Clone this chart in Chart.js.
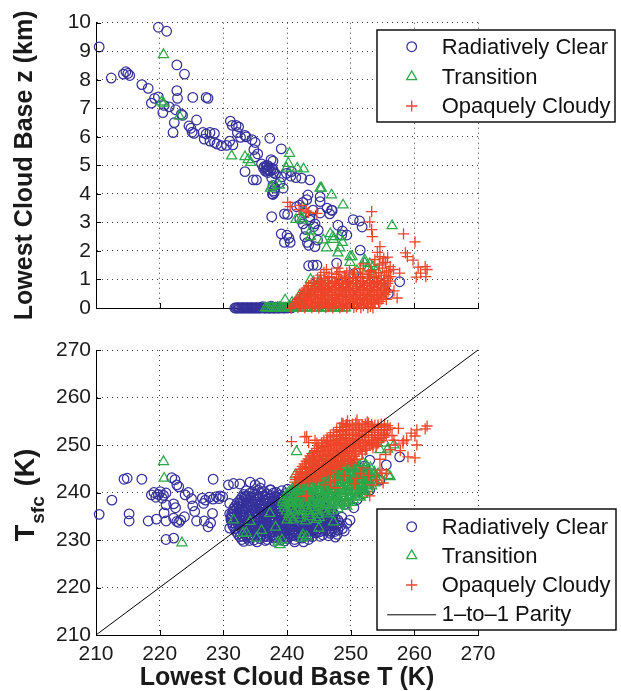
<!DOCTYPE html>
<html><head><meta charset="utf-8">
<script src="https://cdn.jsdelivr.net/npm/chart.js@4/dist/chart.umd.min.js"></script>
<style>
html,body{margin:0;padding:0;background:#fff;}
#wrap{position:relative;width:621px;height:691px;background:#fff;}
canvas{position:absolute;left:0;}
#c1{top:0;} #c2{top:330px;}
</style></head><body>
<div id="wrap"><canvas id="c1" width="621" height="330"></canvas><canvas id="c2" width="621" height="361"></canvas></div>
<script>
// ---------- tick labels / categories ----------
const tempTicks = [210, 220, 230, 240, 250, 260, 270];
const heightTicks = [0, 1, 2, 3, 4, 5, 6, 7, 8, 9, 10];
const seriesNames = ['Radiatively Clear', 'Transition', 'Opaquely Cloudy'];
const parityName = '1\u2013to\u20131 Parity';
const parityLine = [210, 270];

// ---------- top panel: [cloud base T (K), cloud base z (km)] ----------
const clearTop = [
[210.5,9.15],[212.4,8.06],[214.3,8.2],[214.7,8.28],[215.0,8.22],[215.3,8.15],[217.2,7.83],[218.2,7.7],[218.7,7.18],[219.2,7.35],[219.8,7.4],[219.8,9.84],[221.1,9.7],[220.7,7.1],[220.5,6.85],[221.5,7.05],[222.7,8.52],[223.9,8.2],[222.7,7.62],[222.8,7.35],[222.5,6.95],[222.3,6.5],[222.1,6.15],[223.6,6.75],[223.4,6.8],[225.2,7.38],[227.3,7.38],[227.6,7.35],[224.6,6.38],[224.9,6.3],[225.8,6.59],[225.1,6.16],[225.4,6.12],[226.8,6.15],[227.3,6.1],[227.9,6.15],[228.6,6.12],[227.0,5.92],[227.9,5.85],[228.6,5.8],[229.0,5.75],[229.7,5.69],[231.1,6.55],[231.4,6.4],[232.0,6.4],[232.4,6.35],[232.2,6.15],[232.7,5.98],[233.4,6.05],[233.6,6.0],[231.0,5.85],[231.5,5.72],[230.5,5.7],[234.5,5.9],[235.0,5.8],[234.8,5.55],[235.0,5.3],[235.4,5.4],[236.0,5.05],[236.4,4.95],[236.8,4.85],[237.2,4.95],[237.4,4.8],[237.8,4.85],[236.6,4.8],[237.0,4.75],[237.3,5.95],[237.5,5.2],[237.8,5.15],[235.2,4.49],[233.4,4.78],[237.6,4.55],[237.8,4.3],[238.0,4.05],[237.7,4.0],[239.1,5.58],[239.9,4.72],[240.6,4.62],[241.4,4.57],[238.9,4.4],[239.4,4.2],[237.6,3.2],[239.1,2.6],[239.6,2.3],[239.6,3.3],[240.1,3.28],[242.0,3.6],[242.5,3.7],[242.5,2.95],[243.0,2.75],[242.8,2.5],[243.2,2.3],[243.4,2.2],[243.4,1.48],[240.7,4.78],[242.3,4.55],[243.6,4.49],[243.3,3.96],[245.2,3.9],[243.6,3.08],[244.4,2.95],[244.9,2.73],[246.3,3.5],[246.7,3.3],[247.1,3.42],[250.4,3.1],[251.4,3.05],[251.8,2.84],[248.0,2.9],[248.7,2.7],[249.4,2.56],[240.0,2.55],[240.5,2.3],[244.7,1.5],[247.8,1.57],[251.5,2.03],[257.7,0.92],[255.4,0.63],[255.9,0.5],[248.8,0.87],[249.9,0.52],[242.6,0.4],[243.1,3.8],[243.6,3.2],[245.2,3.73],[247.0,3.43],[244.2,2.85],[244.4,2.15],[242.8,0.45],[244.1,1.5],[250.5,1.2],[252.8,0.8],[246.0,0.7],[241.5,0.2],
[236.3,4.9],[236.9,5.0],[237.6,4.9],[237.1,4.85],[236.7,4.95],[237.9,4.75],[238.2,4.7],[237.9,4.1],[238.1,4.2],[237.8,3.98],[234.7,4.49],[239.2,4.6],[241.5,3.55],[244.1,3.43],[245.2,3.33],[242.0,3.12],[242.8,3.32],[248.6,2.56],[244.8,2.38],[240.3,2.45],
[231.8,0],[232.2,0],[232.5,0],[232.9,0],[233.2,0],[233.6,0],[233.9,0],[234.3,0],[234.6,0],[235.0,0],[235.3,0],[235.7,0],[236.0,0],[236.4,0],[236.7,0],[237.1,0],[237.4,0],[237.8,0],[238.1,0],[238.5,0],[238.9,0],[239.4,0],[240.0,0],[240.7,0],[236.2,0.05],[237.5,0.06],[238.7,0.04],
[232.0,0],[232.35,0.01],[232.7,0],[233.05,0.01],[233.4,0],[233.75,0.01],[234.1,0],[234.45,0.01],[234.8,0],[235.15,0.01],[235.5,0],[235.85,0.01],[236.55,0],[236.9,0.01],[237.25,0],[237.6,0.01],[237.95,0],[238.3,0.01],[238.7,0],[239.1,0.01],[239.6,0],[240.3,0.01]
];
const transitionTop = [
[220.6,8.88],[220.3,7.22],[220.6,7.18],[223.1,6.72],[231.3,5.33],[233.4,5.3],[233.9,5.2],[234.3,5.1],[237.4,4.2],[238.8,4.3],[240.4,5.42],[239.9,4.9],[241.6,4.9],[241.4,3.1],[243.7,2.7],[243.7,2.5],[243.7,1.0],[240.2,5.07],[242.6,4.87],[237.6,4.26],[245.2,4.2],[248.8,3.61],[242.3,3.14],[246.8,2.6],[247.3,2.4],[248.3,2.5],[248.7,2.3],[249.9,1.6],[250.2,1.8],[256.5,2.88],[245.4,4.2],[247.0,3.96],[242.8,3.43],[242.5,3.08],[247.2,2.5],[245.7,2.38],[246.2,2.1],[248.3,2.1],[249.9,1.8],[252.2,1.68],[253.0,1.55],[253.5,1.45],[254.1,1.33],[244.9,0.87],[244.4,0.75],[245.2,0.95],[248.0,1.93],[252.2,1.58],[252.8,1.4],[253.4,1.2],[251.0,1.3],
[236.6,0],[237.2,0],[237.9,0],[238.5,0.02],[239.2,0],[239.8,0],[240.5,0.03],[241.2,0],[241.9,0],[242.6,0],[243.4,0],[244.2,0],[245.0,0],[245.8,0],[246.7,0],[247.5,0],[248.3,0],[249.2,0],[253.8,0.1],[239.7,0.28],[243.3,0.35],[240.8,0.2],[242.0,0.45],[243.0,0.6],[244.0,0.5],[245.5,0.3],[241.5,0.15],[246.5,0.55],
[236.9,0],[237.55,0.01],[238.2,0],[238.85,0.01],[239.5,0],[240.15,0.01],[240.85,0],[241.55,0.01],[242.25,0],[243.0,0.01],[243.8,0],[244.6,0.01],[245.4,0],[246.25,0.01],[247.1,0],[247.9,0.01],[248.75,0]
];
const opaqueTop = [
[240.1,3.7],[240.5,3.55],[241.9,3.45],[242.3,3.6],[243.0,3.4],[243.4,3.35],[244.7,3.32],[253.3,3.38],[253.0,3.02],[253.3,2.75],[253.4,2.5],[254.6,2.15],[258.3,2.6],[260.1,2.32],[258.6,1.93],[258.9,1.8],[259.8,1.68],[255.2,1.75],[255.8,1.78],[261.7,1.45],[261.0,1.22],[260.3,1.08],[257.7,1.22],[260.6,1.43],[262.0,1.35],[261.8,1.1],
[254.6,1.8],[255.5,1.6],[256.2,1.45],[256.7,1.35],[255.0,1.55],[253.8,1.7],[254.2,1.95],
[246.2,1.35],[248.0,1.4],[249.8,1.3],[251.5,1.38],[253.2,1.32],[255.0,1.4],
[245.8,1.25],[247.0,1.22],[248.3,1.27],[249.4,1.23],[250.6,1.26],[251.9,1.22],[253.1,1.27],[254.4,1.24],[255.6,1.26],
[245.3,1.15],[246.6,1.1],[247.8,1.18],[249.0,1.12],[250.3,1.16],[251.6,1.1],[252.8,1.17],[254.0,1.12],[255.3,1.15],[256.3,1.1],
[244.8,1.05],[245.9,1.03],[247.0,1.07],[248.1,1.04],[249.2,1.06],[250.4,1.03],[251.5,1.07],[252.6,1.04],[253.7,1.06],[254.8,1.03],[255.9,1.05],
[244.2,0.95],[245.3,0.92],[246.4,0.97],[247.5,0.93],[248.6,0.96],[249.7,0.92],[250.8,0.97],[251.9,0.93],[253.0,0.96],[254.1,0.92],[255.2,0.97],[256.2,0.94],
[243.8,0.86],[244.9,0.84],[246.0,0.88],[247.1,0.85],[248.2,0.87],[249.3,0.84],[250.4,0.88],[251.5,0.85],[252.6,0.87],[253.7,0.84],[254.8,0.88],[255.8,0.86],
[244.3,0.87],[245.4,0.85],[246.5,0.86],[247.6,0.88],[248.7,0.85],[249.8,0.87],[250.9,0.86],[252.0,0.85],[253.1,0.88],[254.2,0.86],[255.3,0.85],
[243.4,0.78],[244.5,0.75],[245.6,0.8],[246.7,0.76],[247.8,0.79],[248.9,0.75],[250.0,0.8],[251.1,0.76],[252.2,0.79],[253.3,0.75],[254.4,0.8],[255.5,0.77],
[243.0,0.7],[244.1,0.68],[245.2,0.72],[246.3,0.69],[247.4,0.71],[248.5,0.68],[249.6,0.72],[250.7,0.69],[251.8,0.71],[252.9,0.68],[254.0,0.72],[255.1,0.7],
[242.7,0.62],[243.8,0.6],[244.9,0.64],[246.0,0.6],[247.1,0.63],[248.2,0.6],[249.3,0.64],[250.4,0.6],[251.5,0.63],[252.6,0.6],[253.7,0.64],[254.8,0.61],[255.9,0.63],
[243.2,0.63],[244.3,0.61],[245.4,0.62],[246.5,0.64],[247.6,0.61],[248.7,0.63],[249.8,0.62],[250.9,0.61],[252.0,0.64],[253.1,0.62],[254.2,0.61],[255.3,0.63],
[242.5,0.54],[243.6,0.52],[244.7,0.56],[245.8,0.53],[246.9,0.55],[248.0,0.52],[249.1,0.56],[250.2,0.53],[251.3,0.55],[252.4,0.52],[253.5,0.56],[254.6,0.53],[255.6,0.55],
[242.2,0.46],[243.3,0.44],[244.4,0.48],[245.5,0.45],[246.6,0.47],[247.7,0.44],[248.8,0.48],[249.9,0.45],[251.0,0.47],[252.1,0.44],[253.2,0.48],[254.3,0.45],[255.4,0.47],
[242.7,0.47],[243.8,0.45],[244.9,0.46],[246.0,0.48],[247.1,0.45],[248.2,0.47],[249.3,0.46],[250.4,0.45],[251.5,0.48],[252.6,0.46],[253.7,0.45],[254.8,0.47],
[242.0,0.38],[243.1,0.36],[244.2,0.4],[245.3,0.37],[246.4,0.39],[247.5,0.36],[248.6,0.4],[249.7,0.37],[250.8,0.39],[251.9,0.36],[253.0,0.4],[254.1,0.37],[255.1,0.39],
[241.7,0.3],[242.8,0.28],[243.9,0.32],[245.0,0.29],[246.1,0.31],[247.2,0.28],[248.3,0.32],[249.4,0.29],[250.5,0.31],[251.6,0.28],[252.7,0.32],[253.8,0.29],[254.9,0.31],
[242.2,0.31],[243.3,0.29],[244.4,0.3],[245.5,0.32],[246.6,0.29],[247.7,0.31],[248.8,0.3],[249.9,0.29],[251.0,0.32],[252.1,0.3],[253.2,0.29],[254.3,0.31],
[241.5,0.22],[242.6,0.2],[243.7,0.24],[244.8,0.21],[245.9,0.23],[247.0,0.2],[248.1,0.24],[249.2,0.21],[250.3,0.23],[251.4,0.2],[252.5,0.24],[253.6,0.21],[254.6,0.23],
[241.2,0.15],[242.3,0.13],[243.4,0.17],[244.5,0.14],[245.6,0.16],[246.7,0.13],[247.8,0.17],[248.9,0.14],[250.0,0.16],[251.1,0.13],[252.2,0.17],[253.3,0.14],[254.4,0.16],
[241.7,0.16],[242.8,0.14],[243.9,0.15],[245.0,0.17],[246.1,0.14],[247.2,0.16],[248.3,0.15],[249.4,0.14],[250.5,0.17],[251.6,0.15],[252.7,0.14],[253.8,0.16],
[241.0,0.07],[242.1,0.06],[243.2,0.08],[244.3,0.06],[245.4,0.07],[246.5,0.05],[247.6,0.08],[248.7,0.06],[249.8,0.07],[250.9,0.05],[252.0,0.08],[253.1,0.06],
[240.6,0],[241.7,0.02],[242.8,0],[243.9,0.01],[245.0,0],[246.1,0.02],[247.2,0],[248.3,0.01],[249.4,0],[250.5,0.02],[251.6,0],[252.7,0.01],[253.5,0],
[255.6,0.3],[256.8,0.6],[257.3,0.35],[256.0,1.3],[254.5,1.5],[252.0,1.55]
];

// ---------- bottom panel: [cloud base T (K), surface T (K)] ----------
const clearBot = [
[210.5,235.4],[212.5,238.4],[214.4,242.8],[214.9,243.0],[215.2,235.5],[215.2,234.0],[217.2,242.8],[218.2,234.0],[218.7,239.5],[219.1,240.0],[219.4,239.0],[219.8,239.6],[220.1,240.2],[220.6,239.4],[221.0,239.9],[220.4,238.8],[219.5,234.4],[220.7,235.7],[221.0,237.4],[221.0,234.0],[221.0,230.1],[221.9,243.1],[222.4,242.7],[222.7,241.6],[223.0,241.2],[222.2,237.6],[222.5,236.8],[222.2,234.6],[222.7,233.9],[223.0,233.7],[223.3,234.2],[223.9,234.9],[222.2,230.4],[224.0,239.5],[224.5,240.0],[225.0,238.7],[225.2,237.2],[225.5,236.0],[225.8,234.0],[226.9,237.7],[226.7,238.8],[227.2,238.4],[227.8,239.0],[228.4,238.6],[228.9,239.1],[229.3,238.7],[227.0,234.0],[228.0,233.6],[228.3,235.6],[227.6,232.8],[228.4,242.8],[229.5,239.3],[229.9,239.1],[230.8,241.6],[231.0,237.7],[231.0,235.5],[231.2,234.6],[231.0,232.5],[231.6,241.9],[232.6,241.8],[233.4,239.1],[234.2,242.2],[235.0,241.6],[235.8,242.0],[235.8,240.9],[237.4,240.5],
[233.6,240.4],[234.6,240.1],[235.5,240.5],[236.4,240.2],[237.4,240.6],[238.3,240.0],[239.2,240.4],[240.1,240.7],[241.1,240.2],[242.0,240.5],[243.1,240.1],
[233.2,239.6],[234.1,239.8],[235.1,239.5],[236.0,239.8],[236.9,239.6],[237.9,239.9],[238.8,239.5],[239.8,239.8],[240.7,239.6],[241.6,239.9],[242.6,239.5],[243.6,239.7],
[232.9,239.0],[233.8,239.3],[234.8,238.9],[235.7,239.2],[236.6,239.0],[237.5,239.4],[238.5,238.9],[239.4,239.2],[240.3,239.0],[241.3,239.3],[242.2,238.9],[243.2,239.2],[244.2,239.0],
[233.4,239.2],[234.3,239.0],[235.3,239.1],[236.2,239.3],[237.1,238.9],[238.0,239.1],[239.0,239.0],[239.9,239.2],[240.8,238.9],[241.8,239.1],[242.7,239.0],[243.7,239.2],
[232.6,238.4],[233.5,238.7],[234.4,238.3],[235.4,238.6],[236.3,238.4],[237.2,238.7],[238.1,238.3],[239.0,238.6],[240.0,238.4],[240.9,238.7],[241.9,238.3],[242.8,238.6],[243.8,238.4],[244.8,238.6],
[232.2,237.8],[233.1,238.1],[234.0,237.7],[235.0,238.0],[235.9,237.8],[236.8,238.2],[237.7,237.7],[238.7,238.0],[239.6,237.9],[240.5,238.1],[241.5,237.7],[242.4,238.0],[243.4,237.8],[244.4,238.1],[245.3,237.7],
[232.7,237.9],[233.6,237.8],[234.5,238.0],[235.5,237.9],[236.4,237.8],[237.3,238.0],[238.2,237.9],[239.2,237.8],[240.1,238.0],[241.0,237.9],[242.0,237.8],[242.9,238.0],[243.9,237.9],[244.9,237.8],
[231.9,237.2],[232.8,237.5],[233.8,237.1],[234.7,237.4],[235.6,237.2],[236.6,237.5],[237.5,237.1],[238.4,237.4],[239.4,237.2],[240.3,237.5],[241.2,237.1],[242.1,237.4],[243.1,237.2],[244.0,237.5],[245.0,237.1],[245.9,237.4],
[231.6,236.6],[232.5,236.9],[233.4,236.5],[234.4,236.8],[235.3,236.6],[236.2,236.9],[237.1,236.5],[238.1,236.8],[239.0,236.6],[239.9,236.9],[240.9,236.5],[241.8,236.8],[242.8,236.6],[243.7,236.9],[244.7,236.5],[245.7,236.8],[246.6,236.6],
[232.1,236.7],[233.0,236.6],[233.9,236.8],[234.9,236.7],[235.8,236.6],[236.7,236.8],[237.6,236.7],[238.6,236.6],[239.5,236.8],[240.4,236.7],[241.4,236.6],[242.3,236.8],[243.3,236.7],[244.2,236.6],[245.2,236.8],[246.1,236.7],
[231.5,236.0],[232.4,236.3],[233.3,235.9],[234.3,236.2],[235.2,236.0],[236.1,236.3],[237.0,235.9],[238.0,236.2],[238.9,236.0],[239.8,236.3],[240.8,235.9],[241.7,236.2],[242.6,236.0],[243.6,236.3],[244.5,235.9],[245.4,236.2],[246.4,236.0],[247.0,236.2],
[231.3,235.4],[232.2,235.7],[233.1,235.3],[234.1,235.6],[235.0,235.4],[235.9,235.7],[236.8,235.3],[237.8,235.6],[238.7,235.4],[239.6,235.7],[240.6,235.3],[241.5,235.6],[242.5,235.4],[243.4,235.7],[244.4,235.3],[245.3,235.6],[246.3,235.4],[247.3,235.6],
[231.8,235.5],[232.7,235.4],[233.6,235.6],[234.6,235.5],[235.5,235.4],[236.4,235.6],[237.3,235.5],[238.3,235.4],[239.2,235.6],[240.1,235.5],[241.1,235.4],[242.0,235.6],[243.0,235.5],[243.9,235.4],[244.9,235.6],[245.8,235.5],[246.8,235.4],
[231.3,234.8],[232.2,235.1],[233.1,234.7],[234.0,235.0],[235.0,234.8],[235.9,235.1],[236.8,234.7],[237.8,235.0],[238.7,234.8],[239.6,235.1],[240.5,234.7],[241.5,235.0],[242.4,234.8],[243.4,235.1],[244.3,234.7],[245.2,235.0],[246.2,234.8],[247.2,235.0],
[231.2,234.2],[232.1,234.5],[233.0,234.1],[233.9,234.4],[234.9,234.2],[235.8,234.5],[236.7,234.1],[237.6,234.4],[238.6,234.2],[239.5,234.5],[240.4,234.1],[241.4,234.4],[242.3,234.2],[243.3,234.5],[244.2,234.1],[245.2,234.4],[246.1,234.2],[247.1,234.5],[248.0,234.2],
[231.7,234.3],[232.6,234.2],[233.5,234.4],[234.4,234.3],[235.4,234.2],[236.3,234.4],[237.2,234.3],[238.1,234.2],[239.1,234.4],[240.0,234.3],[240.9,234.2],[241.9,234.4],[242.8,234.3],[243.8,234.2],[244.7,234.4],[245.7,234.3],[246.6,234.2],[247.6,234.4],
[231.4,233.6],[232.3,233.9],[233.2,233.5],[234.1,233.8],[235.1,233.6],[236.0,233.9],[236.9,233.5],[237.9,233.8],[238.8,233.6],[239.7,233.9],[240.7,233.5],[241.6,233.8],[242.5,233.6],[243.5,233.9],[244.4,233.5],[245.4,233.8],[246.3,233.6],[247.3,233.9],[248.2,233.6],
[231.5,233.0],[232.4,233.3],[233.3,232.9],[234.3,233.2],[235.2,233.0],[236.1,233.3],[237.1,232.9],[238.0,233.2],[238.9,233.0],[239.9,233.3],[240.8,232.9],[241.7,233.2],[242.7,233.0],[243.6,233.3],[244.6,232.9],[245.5,233.2],[246.5,233.0],[247.4,233.3],[248.4,233.0],
[232.0,233.1],[232.9,233.0],[233.8,233.2],[234.8,233.1],[235.7,233.0],[236.6,233.2],[237.6,233.1],[238.5,233.0],[239.4,233.2],[240.4,233.1],[241.3,233.0],[242.2,233.2],[243.2,233.1],[244.1,233.0],[245.1,233.2],[246.0,233.1],[247.0,233.0],[247.9,233.2],
[231.8,232.4],[232.7,232.7],[233.6,232.3],[234.6,232.6],[235.5,232.4],[236.4,232.7],[237.4,232.3],[238.3,232.6],[239.2,232.4],[240.2,232.7],[241.1,232.3],[242.0,232.6],[243.0,232.4],[243.9,232.7],[244.9,232.3],[245.8,232.6],[246.8,232.4],[247.7,232.7],[248.7,232.4],
[232.0,231.8],[232.9,232.1],[233.8,231.7],[234.8,232.0],[235.7,231.8],[236.6,232.1],[237.6,231.7],[238.5,232.0],[239.4,231.8],[240.4,232.1],[241.3,231.7],[242.3,232.0],[243.2,231.8],[244.2,232.1],[245.1,231.7],[246.1,232.0],[247.0,231.8],[248.0,232.1],[249.0,231.9],
[232.5,231.9],[233.4,231.8],[234.3,232.0],[235.3,231.9],[236.2,231.8],[237.1,232.0],[238.1,231.9],[239.0,231.8],[239.9,232.0],[240.9,231.9],[241.8,231.8],[242.8,232.0],[243.7,231.9],[244.7,231.8],[245.6,232.0],[246.6,231.9],[247.5,231.8],
[232.3,231.2],[233.2,231.5],[234.1,231.1],[235.1,231.4],[236.0,231.2],[236.9,231.5],[237.9,231.1],[238.8,231.4],[239.7,231.2],[240.7,231.5],[241.6,231.1],[242.6,231.4],[243.5,231.2],[244.5,231.5],[245.6,231.1],[246.8,231.4],[247.9,231.2],
[232.6,230.7],[233.5,231.0],[234.4,230.6],[235.4,230.9],[236.3,230.7],[237.2,231.0],[238.2,230.6],[239.1,230.9],[240.1,230.7],[241.0,231.0],[242.0,230.6],[243.0,230.9],[244.0,230.7],[245.2,230.8],[246.5,230.9],[247.6,230.6],
[233.1,230.8],[234.0,230.7],[234.9,230.9],[235.9,230.8],[236.8,230.7],[237.7,230.9],[238.7,230.8],[239.6,230.7],[240.6,230.9],[241.5,230.8],[242.5,230.7],[243.5,230.9],
[232.9,230.1],[233.8,230.4],[234.8,230.0],[235.8,230.3],[236.9,230.1],[237.9,230.4],[239.0,230.0],[240.1,230.3],[241.2,230.1],[242.3,230.4],[243.4,230.1],
[233.2,229.7],[234.1,229.9],[235.3,229.6],[236.6,229.9],[238.0,229.7],[239.6,229.8],[241.2,229.6],[242.6,229.6],
[249.4,233.5],[248.6,234.8],[249.9,234.2],[246.5,236.3],
[245.5,238.8],[246.5,239.5],[247.0,240.0],[248.0,238.2],[249.0,237.5],[250.5,236.8],[251.0,238.5],[252.0,239.8],[253.0,240.5],[254.6,242.6],[255.6,245.8],[257.7,247.5],[249.8,241.5],[251.5,243.2],[247.2,241.8],[248.5,244.0],[250.2,245.5],[246.0,242.5],[251.5,244.7],[253.0,246.8],[252.2,245.6]
];
const transitionBot = [
[246.8,247.4],[248.0,247.2],[249.2,247.5],
[245.3,246.3],[246.4,246.1],[247.5,246.4],[248.6,246.2],[249.7,246.4],[250.8,246.1],[251.9,246.3],
[244.8,245.7],[245.9,245.5],[247.0,245.8],[248.1,245.6],[249.2,245.8],[250.3,245.5],[251.4,245.7],[252.5,245.6],
[244.3,245.1],[245.4,244.9],[246.5,245.2],[247.6,245.0],[248.7,245.2],[249.8,244.9],[250.9,245.1],[252.0,245.0],[253.1,245.2],
[243.8,244.5],[244.9,244.3],[246.0,244.6],[247.1,244.4],[248.2,244.6],[249.3,244.3],[250.4,244.5],[251.5,244.4],[252.6,244.6],[253.7,244.3],
[243.3,243.9],[244.4,243.7],[245.5,244.0],[246.6,243.8],[247.7,244.0],[248.8,243.7],[249.9,243.9],[251.0,243.8],[252.1,244.0],[253.2,243.7],[254.3,243.9],
[243.8,243.9],[244.9,244.0],[246.0,243.8],[247.1,243.9],[248.2,244.0],[249.3,243.8],[250.4,243.9],[251.5,244.0],[252.6,243.8],[253.7,243.9],
[242.8,243.3],[243.9,243.1],[245.0,243.4],[246.1,243.2],[247.2,243.4],[248.3,243.1],[249.4,243.3],[250.5,243.2],[251.6,243.4],[252.7,243.1],[253.8,243.3],
[242.3,242.7],[243.4,242.5],[244.5,242.8],[245.6,242.6],[246.7,242.8],[247.8,242.5],[248.9,242.7],[250.0,242.6],[251.1,242.8],[252.2,242.5],[253.3,242.7],[254.2,242.6],
[242.8,242.7],[243.9,242.8],[245.0,242.6],[246.1,242.7],[247.2,242.8],[248.3,242.6],[249.4,242.7],[250.5,242.8],[251.6,242.6],[252.7,242.7],[253.7,242.8],
[241.8,242.1],[242.9,241.9],[244.0,242.2],[245.1,242.0],[246.2,242.2],[247.3,241.9],[248.4,242.1],[249.5,242.0],[250.6,242.2],[251.7,241.9],[252.8,242.1],[253.8,242.0],
[241.4,241.5],[242.5,241.3],[243.6,241.6],[244.7,241.4],[245.8,241.6],[246.9,241.3],[248.0,241.5],[249.1,241.4],[250.2,241.6],[251.3,241.3],[252.4,241.5],[253.3,241.4],
[241.9,241.5],[243.0,241.6],[244.1,241.4],[245.2,241.5],[246.3,241.6],[247.4,241.4],[248.5,241.5],[249.6,241.6],[250.7,241.4],[251.8,241.5],[252.8,241.6],
[240.9,240.9],[242.0,240.7],[243.1,241.0],[244.2,240.8],[245.3,241.0],[246.4,240.7],[247.5,240.9],[248.6,240.8],[249.7,241.0],[250.8,240.7],[251.9,240.9],[252.8,240.8],
[240.4,240.3],[241.5,240.1],[242.6,240.4],[243.7,240.2],[244.8,240.4],[245.9,240.1],[247.0,240.3],[248.1,240.2],[249.2,240.4],[250.3,240.1],[251.4,240.3],[252.3,240.2],
[240.9,240.3],[242.0,240.4],[243.1,240.2],[244.2,240.3],[245.3,240.4],[246.4,240.2],[247.5,240.3],[248.6,240.4],[249.7,240.2],[250.8,240.3],[251.8,240.4],
[240.0,239.7],[241.1,239.5],[242.2,239.8],[243.3,239.6],[244.4,239.8],[245.5,239.5],[246.6,239.7],[247.7,239.6],[248.8,239.8],[249.9,239.5],[251.0,239.7],[251.9,239.6],
[239.7,239.1],[240.8,238.9],[241.9,239.2],[243.0,239.0],[244.1,239.2],[245.2,238.9],[246.3,239.1],[247.4,239.0],[248.5,239.2],[249.6,238.9],[250.7,239.1],[251.5,239.0],
[240.2,239.1],[241.3,239.2],[242.4,239.0],[243.5,239.1],[244.6,239.2],[245.7,239.0],[246.8,239.1],[247.9,239.2],[249.0,239.0],[250.1,239.1],[251.1,239.2],
[239.4,238.5],[240.5,238.3],[241.6,238.6],[242.7,238.4],[243.8,238.6],[244.9,238.3],[246.0,238.5],[247.1,238.4],[248.2,238.6],[249.3,238.3],[250.4,238.5],
[239.3,237.9],[240.4,237.7],[241.5,238.0],[242.6,237.8],[243.7,238.0],[244.8,237.7],[245.9,237.9],[247.0,237.8],[248.1,238.0],[249.2,237.7],[250.1,237.9],
[239.8,237.9],[240.9,238.0],[242.0,237.8],[243.1,237.9],[244.2,238.0],[245.3,237.8],[246.4,237.9],[247.5,238.0],[248.6,237.8],[249.6,237.9],
[239.5,237.3],[240.6,237.1],[241.7,237.4],[242.8,237.2],[243.9,237.4],[245.0,237.1],[246.1,237.3],[247.2,237.2],[248.3,237.4],[249.4,237.1],
[239.6,236.7],[240.8,236.5],[242.0,236.8],[243.2,236.6],[244.4,236.8],[245.6,236.5],[246.8,236.7],[248.0,236.6],
[239.9,236.1],[241.1,235.9],[242.3,236.2],[243.5,236.0],[244.7,236.2],[245.9,235.9],[247.1,236.1],
[240.3,235.4],[241.8,235.2],[243.3,235.5],[244.8,235.3],[246.3,235.5],
[240.6,234.8],[242.1,234.6],[243.6,234.9],[245.1,234.7],
[241.0,234.2],[242.9,234.0],[244.6,234.3],
[220.6,246.5],[220.7,243.0],[223.5,229.4],[231.6,234.2],[233.1,231.4],[233.6,231.5],[234.2,233.9],[237.3,235.6],[238.2,232.7],[238.9,229.0],[239.2,230.0],[238.6,229.6],[241.5,248.6],[241.3,243.7],[243.6,247.5],[244.1,246.8],[244.4,247.5],[242.4,230.4],[243.1,230.7],[242.5,231.1],[240.0,234.2],[241.7,236.3],[256.2,243.3],[255.9,243.6],[255.8,249.1],[256.8,250.0],[254.6,249.0],[255.4,250.4],[245.0,232.5],[247.3,233.8],[236.0,232.0],[235.2,230.4]
];
const opaqueBot = [
[248.8,254.5],[249.8,254.2],[250.8,254.6],[251.8,254.3],[252.8,254.6],[253.8,254.2],[254.8,254.4],[255.8,254.1],
[249.3,254.3],[250.3,254.4],[251.3,254.2],[252.3,254.4],[253.3,254.3],[254.3,254.2],[255.3,254.4],
[248.3,253.7],[249.3,253.9],[250.3,253.6],[251.3,253.8],[252.3,253.6],[253.3,253.9],[254.3,253.7],[255.3,253.8],[256.2,253.6],
[247.8,253.2],[248.8,253.0],[249.8,253.3],[250.8,253.1],[251.8,253.3],[252.8,253.0],[253.8,253.2],[254.8,253.1],[255.8,253.3],
[248.3,253.2],[249.3,253.1],[250.3,253.3],[251.3,253.2],[252.3,253.1],[253.3,253.3],[254.3,253.2],[255.3,253.1],
[247.3,252.6],[248.3,252.8],[249.3,252.5],[250.3,252.7],[251.3,252.5],[252.3,252.8],[253.3,252.6],[254.3,252.7],[255.3,252.5],
[246.8,252.1],[247.8,251.9],[248.8,252.2],[249.8,252.0],[250.8,252.2],[251.8,251.9],[252.8,252.1],[253.8,252.0],[254.8,252.2],[255.6,252.0],
[247.3,252.1],[248.3,252.0],[249.3,252.2],[250.3,252.1],[251.3,252.0],[252.3,252.2],[253.3,252.1],[254.3,252.0],[255.2,252.2],
[246.3,251.5],[247.3,251.7],[248.3,251.4],[249.3,251.6],[250.3,251.4],[251.3,251.7],[252.3,251.5],[253.3,251.6],[254.3,251.4],[255.2,251.6],
[245.8,251.0],[246.8,250.8],[247.8,251.1],[248.8,250.9],[249.8,251.1],[250.8,250.8],[251.8,251.0],[252.8,250.9],[253.8,251.1],[254.8,250.9],
[246.3,251.0],[247.3,250.9],[248.3,251.1],[249.3,251.0],[250.3,250.9],[251.3,251.1],[252.3,251.0],[253.3,250.9],[254.3,251.1],
[245.4,250.4],[246.3,250.6],[247.3,250.3],[248.3,250.5],[249.3,250.3],[250.3,250.6],[251.3,250.4],[252.3,250.5],[253.3,250.3],[254.4,250.5],
[245.0,249.9],[246.0,249.7],[247.0,250.0],[248.0,249.8],[249.0,250.0],[250.0,249.7],[251.0,249.9],[252.0,249.8],[253.0,250.0],[254.0,249.7],
[245.5,249.9],[246.5,249.8],[247.5,250.0],[248.5,249.9],[249.5,249.8],[250.5,250.0],[251.5,249.9],[252.5,249.8],[253.5,250.0],
[244.6,249.3],[245.5,249.5],[246.5,249.2],[247.5,249.4],[248.5,249.2],[249.5,249.5],[250.5,249.3],[251.5,249.4],[252.5,249.2],[253.5,249.4],
[244.3,248.8],[245.3,248.6],[246.3,248.9],[247.3,248.7],[248.3,248.9],[249.3,248.6],[250.3,248.8],[251.3,248.7],[252.3,248.9],
[244.8,248.8],[245.8,248.7],[246.8,248.9],[247.8,248.8],[248.8,248.7],[249.8,248.9],[250.8,248.8],[251.8,248.7],
[243.9,248.2],[244.8,248.4],[245.8,248.1],[246.8,248.3],[247.8,248.1],[248.8,248.4],[249.8,248.2],[250.8,248.3],[251.8,248.1],
[243.6,247.7],[244.6,247.5],[245.6,247.8],[246.6,247.6],[247.6,247.8],[248.6,247.5],[249.6,247.7],[250.6,247.6],
[244.1,247.7],[245.1,247.6],[246.1,247.8],[247.1,247.7],[248.1,247.6],[249.1,247.8],[250.1,247.7],
[243.3,247.1],[244.1,247.3],[245.1,247.0],[246.1,247.2],[247.1,247.0],[248.1,247.3],[249.1,247.1],[250.1,247.2],[251.0,247.0],
[243.0,246.6],[244.0,246.4],[245.0,246.7],[246.0,246.5],[247.0,246.7],[248.0,246.4],[249.0,246.6],[250.0,246.5],
[243.5,246.6],[244.5,246.5],[245.5,246.7],[246.5,246.6],[247.5,246.5],[248.5,246.7],[249.5,246.6],
[242.7,246.0],[243.5,246.2],[244.5,245.9],[245.5,246.1],[246.5,245.9],[247.5,246.2],[248.5,246.0],[249.5,246.1],
[242.4,245.5],[243.4,245.3],[244.4,245.6],[245.4,245.4],[246.4,245.6],[247.4,245.3],[248.3,245.5],
[242.9,245.5],[243.9,245.4],[244.9,245.6],[245.9,245.5],[246.9,245.4],[247.9,245.6],
[242.1,244.9],[243.0,245.1],[243.9,244.8],[244.9,245.0],[245.9,244.8],[246.9,245.1],[247.9,244.9],
[241.9,244.4],[242.9,244.2],[243.9,244.5],[244.9,244.3],[245.9,244.5],[246.8,244.2],
[242.4,244.4],[243.4,244.3],[244.4,244.5],[245.4,244.4],[246.4,244.3],
[241.6,243.8],[242.4,244.0],[243.4,243.7],[244.4,243.9],[245.4,243.7],[246.3,243.9],
[241.4,243.3],[242.4,243.1],[243.4,243.4],[244.4,243.2],[245.3,243.4],
[241.9,243.3],[242.9,243.2],[243.9,243.4],[244.9,243.3],
[241.3,242.7],[242.1,242.9],[242.9,242.6],[243.8,242.8],[244.7,242.6],
[241.2,242.2],[242.2,242.0],[243.3,242.3],
[240.7,250.7],[242.8,251.7],[243.1,251.8],[243.4,250.5],[244.4,251.0],[244.7,250.4],[242.6,239.2],[243.1,239.3],[246.8,242.2],[247.5,242.6],[250.2,246.2],[250.4,246.8],[251.5,244.0],[252.0,245.2],[253.3,241.6],[254.1,242.6],[255.1,242.0],[255.6,244.0],[253.0,239.3],[254.6,244.7],[254.9,244.1],[254.6,247.0],[255.5,248.0],[256.2,249.0],[256.8,251.0],[257.5,253.5],[256.5,252.0],[258.2,250.4],[258.8,251.1],[258.3,250.9],[259.5,252.5],[260.4,253.2],[260.1,251.9],[260.4,250.0],[260.1,247.3],[259.0,247.5],[261.7,253.4],[262.0,254.0],[248.6,254.6],[249.5,255.1],[251.0,255.3],[252.6,254.9],[257.0,250.0],[257.8,248.8],[251.0,243.0],[249.0,243.5],[247.6,241.0],[246.0,241.6],[250.6,241.8],[252.8,243.6]
];

// ---------- styling ----------
const FONT = '"Liberation Sans", Arial, Helvetica, sans-serif';
const COLORS = ['#35319a', '#2ba84a', '#ee4428'];
const MARKERS = [
  {pointStyle: 'circle', pointRadius: 4.8, borderWidth: 1.25},
  {pointStyle: 'triangle', pointRadius: 5.8, borderWidth: 1.25},
  {pointStyle: 'cross', pointRadius: 5.6, borderWidth: 1.3}
];
const toXY = arr => arr.map(p => ({x: p[0], y: p[1]}));

function scatterSet(i, arr) {
  return {
    type: 'scatter', label: seriesNames[i], data: toXY(arr),
    pointStyle: MARKERS[i].pointStyle, pointRadius: MARKERS[i].pointRadius, pointHoverRadius: MARKERS[i].pointRadius,
    borderColor: COLORS[i], backgroundColor: 'rgba(0,0,0,0)', borderWidth: MARKERS[i].borderWidth,
    order: 3 - i, clip: false
  };
}

function gridOpts() { return {color: '#3c3c3c', lineWidth: 1, drawTicks: false}; }
function borderOpts() { return {display: true, color: '#000', width: 1, dash: [1, 4]}; }
function tickFont() { return {family: FONT, size: 21}; }

const innerTicks = {
  id: 'innerTicks',
  afterDraw(chart) {
    const {ctx, chartArea: a, scales: {x, y}} = chart;
    ctx.save(); ctx.strokeStyle = '#000'; ctx.lineWidth = 1;
    x.ticks.forEach(t => { const px = Math.round(x.getPixelForValue(t.value)) + 0.5; ctx.beginPath(); ctx.moveTo(px, a.bottom); ctx.lineTo(px, a.bottom - 5); ctx.stroke(); });
    y.ticks.forEach(t => { const py = Math.round(y.getPixelForValue(t.value)) + 0.5; ctx.beginPath(); ctx.moveTo(a.left, py); ctx.lineTo(a.left + 5, py); ctx.stroke(); });
    ctx.restore();
  }
};

function legendPlugin(box, rows, markX, textX) {
  return {
    id: 'boxLegend',
    afterDraw(chart) {
      const ctx = chart.ctx;
      ctx.save();
      ctx.fillStyle = '#fff'; ctx.fillRect(box[0], box[1], box[2], box[3]);
      ctx.strokeStyle = '#000'; ctx.lineWidth = 1.4; ctx.strokeRect(box[0], box[1], box[2], box[3]);
      chart.data.datasets.forEach((ds, i) => {
        const yy = rows[i];
        ctx.strokeStyle = ds.borderColor; ctx.fillStyle = 'rgba(0,0,0,0)';
        if (ds.type === 'line') {
          ctx.lineWidth = ds.borderWidth; ctx.beginPath(); ctx.moveTo(markX - 24.5, yy + 0.5); ctx.lineTo(markX + 24.5, yy + 0.5); ctx.stroke();
        } else {
          ctx.lineWidth = ds.borderWidth;
          Chart.helpers.drawPoint(ctx, {pointStyle: ds.pointStyle, radius: ds.pointRadius, borderWidth: ds.borderWidth, rotation: 0}, markX, yy);
        }
        ctx.fillStyle = '#111'; ctx.font = '22px ' + FONT; ctx.textBaseline = 'middle'; ctx.textAlign = 'left';
        ctx.fillText(ds.label, textX, yy + 1);
      });
      ctx.restore();
    }
  };
}

// ---------- top chart ----------
new Chart(document.getElementById('c1'), {
  type: 'scatter',
  data: {datasets: [scatterSet(0, clearTop), scatterSet(1, transitionTop), scatterSet(2, opaqueTop)]},
  options: {
    responsive: false, animation: false, devicePixelRatio: 1, events: [],
    layout: {padding: {top: 22.7, right: 143, bottom: 0, left: 0}},
    plugins: {legend: {display: false}, tooltip: {enabled: false}},
    scales: {
      x: {type: 'linear', position: 'bottom', min: tempTicks[0], max: tempTicks[tempTicks.length - 1],
          ticks: {stepSize: tempTicks[1] - tempTicks[0], display: false},
          grid: gridOpts(), border: borderOpts(),
          afterFit: s => { s.height = 22; }},
      y: {type: 'linear', min: heightTicks[0], max: heightTicks[heightTicks.length - 1],
          ticks: {stepSize: heightTicks[1] - heightTicks[0], padding: 5, font: tickFont(), color: '#1a1a1a', autoSkip: false},
          grid: gridOpts(), border: borderOpts(),
          title: {display: true, text: 'Lowest Cloud Base z (km)', color: '#1a1a1a',
                  font: {family: FONT, size: 25, weight: 'bold', lineHeight: 1}, padding: {top: 13, bottom: 0}},
          afterFit: s => { s.width = 96; }}
    }
  },
  plugins: [innerTicks, legendPlugin([377, 30, 238, 92], [46.7, 76.7, 106], 411.7, 441.7)]
});

// ---------- bottom chart ----------
const yTitle = {
  id: 'yTitle',
  afterDraw(chart) {
    const ctx = chart.ctx; const a = chart.chartArea;
    ctx.save();
    ctx.fillStyle = '#1a1a1a'; ctx.textBaseline = 'alphabetic'; ctx.textAlign = 'left';
    const big = 'bold 27px ' + FONT, small = 'bold 19px ' + FONT;
    ctx.font = big; const wT = ctx.measureText('T').width; const wK = ctx.measureText('(K)').width;
    ctx.font = small; const wS = ctx.measureText('sfc').width;
    const gap = 10; const total = wT + 1 + wS + gap + wK;
    ctx.translate(0, (a.top + a.bottom) / 2 + 2.5);
    ctx.rotate(-Math.PI / 2);
    let xr = -total / 2;
    ctx.font = big; ctx.fillText('T', xr, 34); xr += wT + 1;
    ctx.font = small; ctx.fillText('sfc', xr, 44); xr += wS + gap;
    ctx.font = big; ctx.fillText('(K)', xr, 34);
    ctx.restore();
  }
};

new Chart(document.getElementById('c2'), {
  type: 'scatter',
  data: {datasets: [
    scatterSet(0, clearBot), scatterSet(1, transitionBot), scatterSet(2, opaqueBot),
    {type: 'line', label: parityName, data: parityLine.map(v => ({x: v, y: v})), borderColor: '#000', borderWidth: 1,
     pointRadius: 0, pointHoverRadius: 0, fill: false, order: 0, clip: false}
  ]},
  options: {
    responsive: false, animation: false, devicePixelRatio: 1, events: [],
    layout: {padding: {top: 20, right: 143, bottom: 0, left: 0}},
    plugins: {legend: {display: false}, tooltip: {enabled: false}},
    scales: {
      x: {type: 'linear', position: 'bottom', min: tempTicks[0], max: tempTicks[tempTicks.length - 1],
          ticks: {stepSize: tempTicks[1] - tempTicks[0], padding: 7, font: tickFont(), color: '#1a1a1a', maxRotation: 0, autoSkip: false},
          grid: gridOpts(), border: borderOpts(),
          title: {display: true, text: 'Lowest Cloud Base T (K)', color: '#1a1a1a',
                  font: {family: FONT, size: 25, weight: 'bold', lineHeight: 1}, padding: {top: 0, bottom: 0.5}},
          afterFit: s => { s.height = 56; }},
      y: {type: 'linear', min: tempTicks[0], max: tempTicks[tempTicks.length - 1],
          ticks: {stepSize: tempTicks[1] - tempTicks[0], padding: 5, font: tickFont(), color: '#1a1a1a', autoSkip: false},
          grid: gridOpts(), border: borderOpts(),
          afterFit: s => { s.width = 96; }}
    }
  },
  plugins: [innerTicks, yTitle, legendPlugin([377, 179, 239, 121], [196.7, 225.7, 255, 284.3], 411.7, 441.7)]
});
</script>
</body></html>
